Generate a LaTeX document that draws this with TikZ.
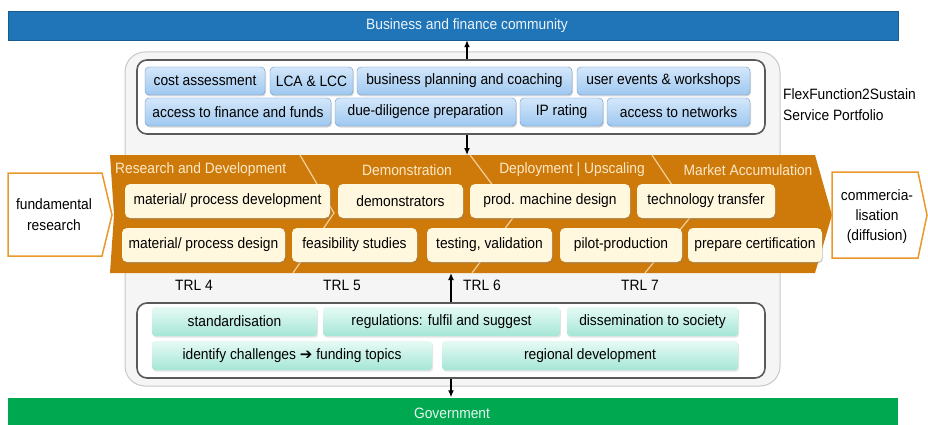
\documentclass[tikz,border=0pt]{standalone}
\usepackage{fontspec}
\setmainfont[FakeStretch=0.92]{Liberation Sans}
\usetikzlibrary{arrows.meta,shadows}

\definecolor{bizblue}{RGB}{31,117,184}
\definecolor{govgreen}{RGB}{0,168,80}
\definecolor{phaseorange}{RGB}{206,122,10}
\definecolor{edgeorange}{RGB}{234,152,42}
\definecolor{creamfill}{RGB}{255,247,222}
\definecolor{headcream}{RGB}{253,233,200}
\definecolor{divline}{RGB}{245,208,155}
\definecolor{servtop}{RGB}{212,231,250}
\definecolor{servbot}{RGB}{158,200,240}
\definecolor{servedge}{RGB}{105,150,200}
\definecolor{policytop}{RGB}{230,250,245}
\definecolor{policybot}{RGB}{165,230,214}
\definecolor{portfill}{RGB}{245,245,245}
\definecolor{portedge}{RGB}{200,200,200}
\definecolor{groupedge}{RGB}{90,90,90}

\begin{document}
\begin{tikzpicture}
  [x=1pt,y=-1pt,
   every node/.style={font=\fontsize{15}{17}\selectfont, inner sep=0pt},
   bar/.style={minimum width=890pt, minimum height=29pt},
   group/.style={draw=groupedge, line width=1.6pt, rounded corners=10pt, fill=white},
   service/.style={draw=servedge, rounded corners=4pt, top color=servtop, bottom color=servbot,
     minimum height=28pt, drop shadow={shadow xshift=1pt, shadow yshift=-1.5pt, opacity=.3}},
   task/.style={fill=creamfill, rounded corners=5pt, minimum height=34pt,
     drop shadow={shadow xshift=1pt, shadow yshift=-1.5pt, opacity=.35}},
   policy/.style={top color=policytop, bottom color=policybot, rounded corners=3pt,
     minimum height=29pt, drop shadow={shadow xshift=1pt, shadow yshift=-1.5pt, opacity=.2}},
   phase/.style={text=headcream},
   outer/.style={draw=edgeorange, line width=1.5pt, fill=white},
   divider/.style={draw=divline, line width=1.2pt},
   link/.style={-{Latex[length=7pt,width=6pt]}, line width=1.3pt}]
  \useasboundingbox (0,0) rectangle (928,425);

  \node[bar, fill=bizblue, draw=bizblue!80!black] (biz) at (453,25.5) {};
  \node[text=white!92!bizblue] (biztext) at (467,25.5) {Business and finance community};
  \node[bar, fill=govgreen] (gov) at (453,412) {};
  \node[text=white!90!govgreen] (govtext) at (452,413) {Government};

  \draw[fill=portfill, draw=portedge, line width=1pt, rounded corners=20pt] (125,52) rectangle (780,386);
  \node[align=left, anchor=west, font=\fontsize{15}{21}\selectfont] (portfolio) at (783,104.5)
    {FlexFunction2Sustain\\Service Portfolio};

  \node[group, minimum width=628pt, minimum height=74pt] (services) at (451,97) {};
  \node[service, minimum width=120pt] (cost) at (205,81) {cost assessment};
  \node[service, minimum width=83pt] (lca) at (311.5,81) {LCA \& LCC};
  \node[service, minimum width=215pt] (coaching) at (464.5,81) {business planning and coaching};
  \node[service, minimum width=173pt] (events) at (663.5,81) {user events \& workshops};
  \node[service, minimum width=186pt] (finance) at (238,112) {access to finance and funds};
  \node[service, minimum width=181pt] (duedil) at (425.5,112) {due-diligence preparation};
  \node[service, minimum width=83pt] (iprating) at (561.5,112) {IP rating};
  \node[service, minimum width=143pt] (networks) at (678.5,112) {access to networks};

  \fill[phaseorange] (110,155) -- (815,155) -- (832,215) -- (815,273) -- (110,273) -- (114,215) -- cycle;
  \coordinate (bandtop) at (467,155);
  \coordinate (bandbot) at (451,273);
  \draw[divider] (300,155) -- (334,213) -- (293,273);
  \draw[divider] (470,155) -- (515,215) -- (472,273);
  \draw[divider] (652,155) -- (692,215) -- (645,273);

  \node[phase, anchor=west] (rnd) at (115,170) {Research and Development};
  \node[phase] (demophase) at (407,170) {Demonstration};
  \node[phase] (deploy) at (572,170) {Deployment | Upscaling};
  \node[phase] (market) at (748,170) {Market Accumulation};

  \node[task, minimum width=205pt] (matdev) at (227.5,201) {material/ process development};
  \node[task, minimum width=125pt] (demo) at (400.5,201) {demonstrators};
  \node[task, minimum width=160pt] (machine) at (550,201) {prod. machine design};
  \node[task, minimum width=138pt] (transfer) at (706,201) {technology transfer};
  \node[task, minimum width=163pt] (matdesign) at (203.5,245) {material/ process design};
  \node[task, minimum width=125pt] (feasible) at (354.5,245) {feasibility studies};
  \node[task, minimum width=125pt] (testing) at (489.5,245) {testing, validation};
  \node[task, minimum width=122pt] (pilot) at (621,245) {pilot-production};
  \node[task, minimum width=134pt] (certify) at (755,245) {prepare certification};

  \draw[outer] (8,173) -- (102,173) -- (112,215) -- (102,256) -- (8,256) -- cycle;
  \node[align=center, font=\fontsize{15}{21}\selectfont] (fundamental) at (54,215) {fundamental\\research};
  \draw[outer] (832,172) -- (918,172) -- (927,215) -- (918,258) -- (832,258) -- cycle;
  \node[align=center, font=\fontsize{15}{20}\selectfont] (commercial) at (877,217) {commercia-\\lisation\\(diffusion)};

  \node (trl4) at (194,285) {TRL 4};
  \node (trl5) at (342,285) {TRL 5};
  \node (trl6) at (482,285) {TRL 6};
  \node (trl7) at (640,285) {TRL 7};

  \node[group, minimum width=628pt, minimum height=75pt] (policies) at (451,340.5) {};
  \node[policy, minimum width=165pt] (standard) at (234.5,321.5) {standardisation};
  \node[policy, minimum width=237pt] (regulate) at (441.5,321.5) {regulations: fulfil and suggest};
  \node[policy, minimum width=171pt] (society) at (652.5,321.5) {dissemination to society};
  \node[policy, minimum width=280pt] (challenge) at (292,355.5)
    {identify challenges {\fontspec{DejaVu Sans Bold}\char"2794} funding topics};
  \node[policy, minimum width=296pt] (regional) at (590,355.5) {regional development};

  \draw[link] ([xshift=16pt]services.north) -- ([xshift=16pt]services.north |- biz.south);
  \draw[link] ([xshift=16pt]services.south) -- (bandtop);
  \draw[link] (policies.north) -- (bandbot);
  \draw[link] (policies.south) -- (policies.south |- gov.north);
\end{tikzpicture}
\end{document}
